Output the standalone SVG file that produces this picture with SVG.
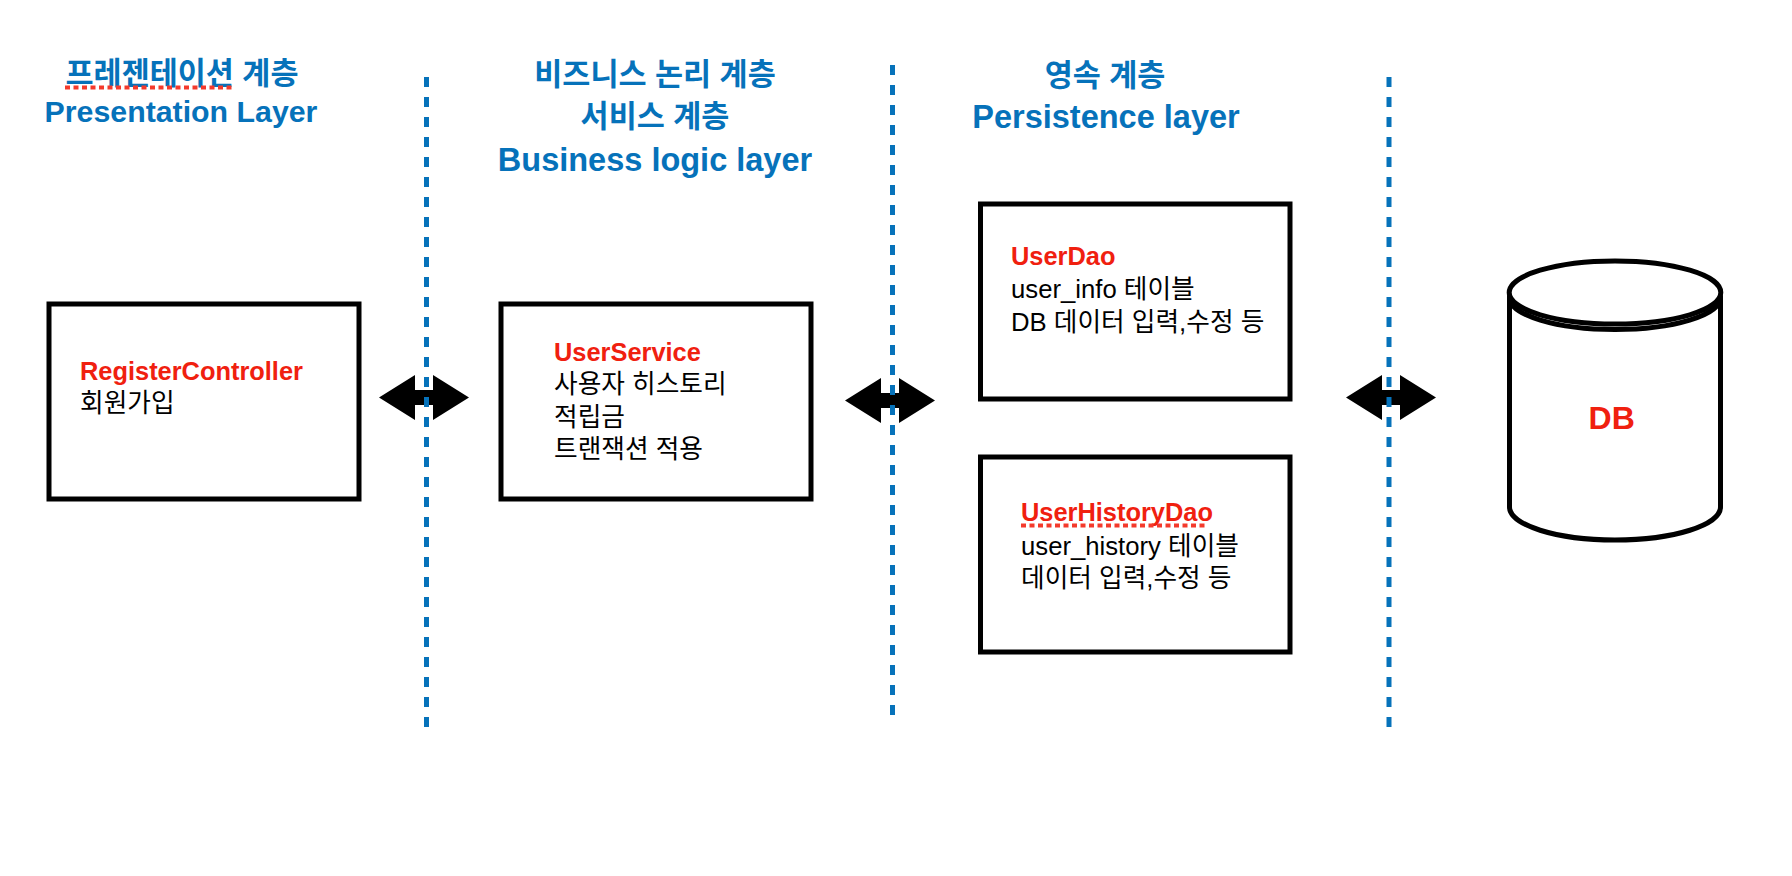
<svg xmlns="http://www.w3.org/2000/svg" width="1792" height="876" viewBox="0 0 1792 876">
<style>
text{font-family:"Liberation Sans","Noto Sans CJK KR",sans-serif}
.h{font-size:30.500px;font-weight:700;fill:#0672ba;text-anchor:middle}
.t{font-size:25.700px;fill:#000}
.r{font-size:25.400px;font-weight:700;fill:#f0200f}
.box{fill:#fff;stroke:#000;stroke-width:5}
.sep{stroke:#0672ba;stroke-width:5;stroke-dasharray:10 10;fill:none}
.arr{fill:#000}
.sq{stroke:#f43a2c;stroke-width:4;stroke-dasharray:5 3.500;fill:none}
.cyl{fill:#fff;stroke:#000;stroke-width:5}
.db{font-size:32px;font-weight:700;fill:#f0200f;text-anchor:middle}
</style>
<rect width="1792" height="876" fill="#fff"/>
<g id="connectors">
<path class="arr" d="M379 397.500L415 375V390H433V375L469 397.500L433 420V405H415V420Z"/>
<path class="arr" d="M845 400.500L881 378V393H899V378L935 400.500L899 423V408H881V423Z"/>
<path class="arr" d="M1346 397.500L1382 375V390H1400V375L1436 397.500L1400 420V405H1382V420Z"/>
<path class="sep" d="M426.500 77V727"/>
<path class="sep" d="M892.500 65V717"/>
<path class="sep" d="M1389 77V727"/>
</g>
<g id="header-presentation">
<text class="h" x="182" y="84">프레젠테이션 계층</text>
<text class="h" x="181" y="122" style="font-size:30.300px">Presentation Layer</text>
<path class="sq" d="M65 87.500H232"/>
</g>
<g id="header-business">
<text class="h" x="655" y="85">비즈니스 논리 계층</text>
<text class="h" x="655" y="127">서비스 계층</text>
<text class="h" x="655" y="171" style="font-size:32.500px">Business logic layer</text>
</g>
<g id="header-persistence">
<text class="h" x="1105" y="86">영속 계층</text>
<text class="h" x="1106" y="128" style="font-size:32.500px">Persistence layer</text>
</g>
<g id="node-register">
<rect class="box" x="49" y="304" width="310" height="195"/>
<text class="r" x="80" y="380">RegisterController</text>
<text class="t" x="80" y="412">회원가입</text>
</g>
<g id="node-service">
<rect class="box" x="501" y="304" width="310" height="195"/>
<text class="r" x="554" y="361">UserService</text>
<text class="t" x="554" y="393">사용자 히스토리</text>
<text class="t" x="554" y="426">적립금</text>
<text class="t" x="554" y="458">트랜잭션 적용</text>
</g>
<g id="node-userdao">
<rect class="box" x="980.500" y="204" width="309.500" height="195"/>
<text class="r" x="1011" y="265">UserDao</text>
<text class="t" x="1011" y="298">user_info 테이블</text>
<text class="t" x="1011" y="331">DB 데이터 입력,수정 등</text>
</g>
<g id="node-userhistorydao">
<rect class="box" x="980.500" y="457" width="309.500" height="195"/>
<text class="r" x="1021" y="521">UserHistoryDao</text>
<path class="sq" d="M1021 525.500H1208"/>
<text class="t" x="1021" y="555">user_history 테이블</text>
<text class="t" x="1021" y="587">데이터 입력,수정 등</text>
</g>
<g id="node-db">
<path class="cyl" d="M1509.500 296V507C1509.500 525 1556 540 1615 540C1674 540 1720.500 525 1720.500 507V296"/>
<ellipse class="cyl" cx="1615" cy="297.500" rx="105.500" ry="32"/>
<ellipse class="cyl" cx="1615" cy="292.500" rx="105.800" ry="31.500"/>
<text class="db" x="1611.700" y="429">DB</text>
</g>
</svg>
